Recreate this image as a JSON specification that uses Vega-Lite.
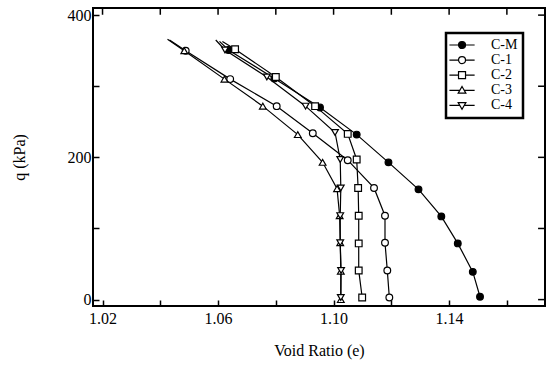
{
  "$schema": "https://vega.github.io/schema/vega-lite/v6.json",
  "width": 452,
  "height": 298,
  "autosize": {"type": "none"},
  "padding": {"left": 93, "top": 8, "right": 10, "bottom": 59},
  "background": "white",
  "config": {
    "view": {"stroke": "black", "strokeWidth": 2},
    "font": "Liberation Serif",
    "axis": {
      "domain": false, "grid": false, "ticks": true, "tickSize": -6, "tickColor": "black", "tickWidth": 1.5,
      "labelFont": "Liberation Serif", "labelFontSize": 16, "labelColor": "black",
      "titleFont": "Liberation Serif", "titleFontSize": 16, "titleFontWeight": "normal", "titleColor": "black"
    },
    "legend": {
      "strokeColor": "black", "strokeWidth": 2.5, "fillColor": "white", "padding": 5,
      "labelFont": "Liberation Serif", "labelFontSize": 14, "labelColor": "black",
      "symbolStrokeColor": "black", "symbolStrokeWidth": 1.2, "symbolSize": 49, "rowPadding": 1.1
    }
  },
  "datasets": {
    "markers": [
      {"series": "C-M", "e": 1.1507, "q": 4}, {"series": "C-M", "e": 1.1482, "q": 39}, {"series": "C-M", "e": 1.1430, "q": 79},
      {"series": "C-M", "e": 1.1373, "q": 117}, {"series": "C-M", "e": 1.1294, "q": 155}, {"series": "C-M", "e": 1.1190, "q": 193},
      {"series": "C-M", "e": 1.1080, "q": 232}, {"series": "C-M", "e": 1.0953, "q": 270}, {"series": "C-M", "e": 1.0795, "q": 311},
      {"series": "C-M", "e": 1.0636, "q": 351},
      {"series": "C-1", "e": 1.1193, "q": 3}, {"series": "C-1", "e": 1.1186, "q": 41}, {"series": "C-1", "e": 1.1178, "q": 80},
      {"series": "C-1", "e": 1.1178, "q": 118}, {"series": "C-1", "e": 1.1140, "q": 157}, {"series": "C-1", "e": 1.1049, "q": 196},
      {"series": "C-1", "e": 1.0928, "q": 234}, {"series": "C-1", "e": 1.0803, "q": 272}, {"series": "C-1", "e": 1.0642, "q": 310},
      {"series": "C-1", "e": 1.0488, "q": 350},
      {"series": "C-2", "e": 1.1099, "q": 3}, {"series": "C-2", "e": 1.1087, "q": 41}, {"series": "C-2", "e": 1.1087, "q": 79},
      {"series": "C-2", "e": 1.1087, "q": 118}, {"series": "C-2", "e": 1.1085, "q": 157}, {"series": "C-2", "e": 1.1080, "q": 197},
      {"series": "C-2", "e": 1.1049, "q": 233}, {"series": "C-2", "e": 1.0936, "q": 272}, {"series": "C-2", "e": 1.0800, "q": 313},
      {"series": "C-2", "e": 1.0659, "q": 352},
      {"series": "C-3", "e": 1.1025, "q": 0}, {"series": "C-3", "e": 1.1025, "q": 40}, {"series": "C-3", "e": 1.1023, "q": 80},
      {"series": "C-3", "e": 1.1021, "q": 118}, {"series": "C-3", "e": 1.1012, "q": 156}, {"series": "C-3", "e": 1.0962, "q": 193},
      {"series": "C-3", "e": 1.0876, "q": 232}, {"series": "C-3", "e": 1.0755, "q": 272}, {"series": "C-3", "e": 1.0622, "q": 310},
      {"series": "C-3", "e": 1.0483, "q": 350},
      {"series": "C-4", "e": 1.1025, "q": 3}, {"series": "C-4", "e": 1.1026, "q": 41}, {"series": "C-4", "e": 1.1023, "q": 80},
      {"series": "C-4", "e": 1.1023, "q": 118}, {"series": "C-4", "e": 1.1025, "q": 157}, {"series": "C-4", "e": 1.1023, "q": 197},
      {"series": "C-4", "e": 1.1005, "q": 235}, {"series": "C-4", "e": 1.0903, "q": 272}, {"series": "C-4", "e": 1.0769, "q": 313},
      {"series": "C-4", "e": 1.0624, "q": 351}
    ],
    "traces": [
      {"series": "C-M", "e": 1.1507, "q": 4}, {"series": "C-M", "e": 1.1482, "q": 39}, {"series": "C-M", "e": 1.1430, "q": 79},
      {"series": "C-M", "e": 1.1373, "q": 117}, {"series": "C-M", "e": 1.1294, "q": 155}, {"series": "C-M", "e": 1.1190, "q": 193},
      {"series": "C-M", "e": 1.1080, "q": 232}, {"series": "C-M", "e": 1.0953, "q": 270}, {"series": "C-M", "e": 1.0795, "q": 311},
      {"series": "C-M", "e": 1.0636, "q": 351}, {"series": "C-M", "e": 1.0605, "q": 363},
      {"series": "C-1", "e": 1.1193, "q": 3}, {"series": "C-1", "e": 1.1186, "q": 41}, {"series": "C-1", "e": 1.1178, "q": 80},
      {"series": "C-1", "e": 1.1178, "q": 118}, {"series": "C-1", "e": 1.1140, "q": 157}, {"series": "C-1", "e": 1.1049, "q": 196},
      {"series": "C-1", "e": 1.0928, "q": 234}, {"series": "C-1", "e": 1.0803, "q": 272}, {"series": "C-1", "e": 1.0642, "q": 310},
      {"series": "C-1", "e": 1.0488, "q": 350}, {"series": "C-1", "e": 1.0432, "q": 365},
      {"series": "C-2", "e": 1.1099, "q": 3}, {"series": "C-2", "e": 1.1087, "q": 41}, {"series": "C-2", "e": 1.1087, "q": 79},
      {"series": "C-2", "e": 1.1087, "q": 118}, {"series": "C-2", "e": 1.1085, "q": 157}, {"series": "C-2", "e": 1.1080, "q": 197},
      {"series": "C-2", "e": 1.1049, "q": 233}, {"series": "C-2", "e": 1.0936, "q": 272}, {"series": "C-2", "e": 1.0800, "q": 313},
      {"series": "C-2", "e": 1.0659, "q": 352}, {"series": "C-2", "e": 1.0615, "q": 363},
      {"series": "C-3", "e": 1.1025, "q": 0}, {"series": "C-3", "e": 1.1025, "q": 40}, {"series": "C-3", "e": 1.1023, "q": 80},
      {"series": "C-3", "e": 1.1021, "q": 118}, {"series": "C-3", "e": 1.1012, "q": 156}, {"series": "C-3", "e": 1.0962, "q": 193},
      {"series": "C-3", "e": 1.0876, "q": 232}, {"series": "C-3", "e": 1.0755, "q": 272}, {"series": "C-3", "e": 1.0622, "q": 310},
      {"series": "C-3", "e": 1.0483, "q": 350}, {"series": "C-3", "e": 1.0425, "q": 366},
      {"series": "C-4", "e": 1.1025, "q": 3}, {"series": "C-4", "e": 1.1026, "q": 41}, {"series": "C-4", "e": 1.1023, "q": 80},
      {"series": "C-4", "e": 1.1023, "q": 118}, {"series": "C-4", "e": 1.1025, "q": 157}, {"series": "C-4", "e": 1.1023, "q": 197},
      {"series": "C-4", "e": 1.1005, "q": 235}, {"series": "C-4", "e": 1.0903, "q": 272}, {"series": "C-4", "e": 1.0769, "q": 313},
      {"series": "C-4", "e": 1.0624, "q": 351}, {"series": "C-4", "e": 1.0592, "q": 365}
    ],
    "xticks": [{"e": 1.02}, {"e": 1.04}, {"e": 1.06}, {"e": 1.08}, {"e": 1.10}, {"e": 1.12}, {"e": 1.14}, {"e": 1.16}],
    "yticks": [{"q": 0}, {"q": 100}, {"q": 200}, {"q": 300}, {"q": 400}]
  },
  "layer": [
    {
      "data": {"name": "traces"},
      "mark": {"type": "line", "color": "black", "strokeWidth": 1.2},
      "encoding": {
        "x": {"field": "e", "type": "quantitative", "scale": {"domain": [1.0167, 1.1732], "nice": false, "zero": false},
          "axis": {"title": "Void Ratio (e)", "values": [1.02, 1.04, 1.06, 1.08, 1.10, 1.12, 1.14, 1.16],
            "labelExpr": "round(datum.value*100) % 4 == 2 ? format(datum.value, '.2f') : ''", "labelPadding": 10, "titlePadding": 16}},
        "y": {"field": "q", "type": "quantitative", "scale": {"domain": [-9, 410], "nice": false, "zero": false},
          "axis": {"title": "q (kPa)", "values": [0, 100, 200, 300, 400],
            "labelExpr": "datum.value % 200 == 0 ? datum.label : ''", "labelPadding": 8, "titlePadding": 40}},
        "detail": {"field": "series", "type": "nominal"},
        "order": {"field": "q", "type": "quantitative"}
      }
    },
    {
      "data": {"name": "xticks"},
      "mark": {"type": "rule", "color": "black", "strokeWidth": 1.5},
      "encoding": {
        "x": {"field": "e", "type": "quantitative"},
        "y": {"datum": 410},
        "y2": {"datum": 400.5}
      }
    },
    {
      "data": {"name": "yticks"},
      "mark": {"type": "rule", "color": "black", "strokeWidth": 1.5},
      "encoding": {
        "y": {"field": "q", "type": "quantitative"},
        "x": {"datum": 1.1732},
        "x2": {"datum": 1.1708}
      }
    },
    {
      "data": {"name": "markers"},
      "mark": {"type": "point", "strokeWidth": 1.2, "size": 45, "opacity": 1},
      "encoding": {
        "x": {"field": "e", "type": "quantitative"},
        "y": {"field": "q", "type": "quantitative"},
        "shape": {"field": "series", "type": "nominal",
          "scale": {"domain": ["C-M", "C-1", "C-2", "C-3", "C-4"], "range": ["circle", "circle", "square", "triangle-up", "triangle-down"]},
          "legend": null},
        "fill": {"field": "series", "type": "nominal",
          "scale": {"domain": ["C-M", "C-1", "C-2", "C-3", "C-4"], "range": ["black", "white", "white", "white", "white"]},
          "legend": null},
        "stroke": {"field": "series", "type": "nominal",
          "scale": {"domain": ["C-M", "C-1", "C-2", "C-3", "C-4"], "range": ["black", "black", "black", "black", "black"]},
          "legend": null}
      }
    },
    {
      "data": {"name": "markers"},
      "transform": [{"filter": "false"}],
      "mark": {"type": "point", "strokeWidth": 1.2, "size": 49, "opacity": 1},
      "encoding": {
        "x": {"field": "e", "type": "quantitative"},
        "y": {"field": "q", "type": "quantitative"},
        "shape": {"field": "series", "type": "nominal",
          "scale": {"domain": ["C-M", "C-1", "C-2", "C-3", "C-4"], "range": [
            "M-2.45,0H0.15M2.15,0A1,1 0 1,1 0.15,0A1,1 0 1,1 2.15,0M2.15,0H4.75",
            "M-2.45,0H0.15M2.15,0A1,1 0 1,1 0.15,0A1,1 0 1,1 2.15,0M2.15,0H4.75",
            "M-2.45,0H0.15M0.15,-1H2.15V1H0.15ZM2.15,0H4.75",
            "M-2.45,0H0.51M1.15,-1.1L2.25,0.8H0.05ZM1.79,0H4.75",
            "M-2.45,0H0.51M1.15,1.1L2.25,-0.8H0.05ZM1.79,0H4.75"
          ]},
          "legend": {"title": null, "orient": "none", "legendX": 353, "legendY": 25, "labelOffset": 26}},
        "fill": {"field": "series", "type": "nominal",
          "scale": {"domain": ["C-M", "C-1", "C-2", "C-3", "C-4"], "range": ["black", "white", "white", "white", "white"]},
          "legend": {"title": null, "orient": "none", "legendX": 353, "legendY": 25, "labelOffset": 26}},
        "stroke": {"field": "series", "type": "nominal",
          "scale": {"domain": ["C-M", "C-1", "C-2", "C-3", "C-4"], "range": ["black", "black", "black", "black", "black"]},
          "legend": {"title": null, "orient": "none", "legendX": 353, "legendY": 25, "labelOffset": 26}}
      }
    }
  ],
  "resolve": {
    "scale": {"shape": "independent", "fill": "independent", "stroke": "independent"}
  }
}
